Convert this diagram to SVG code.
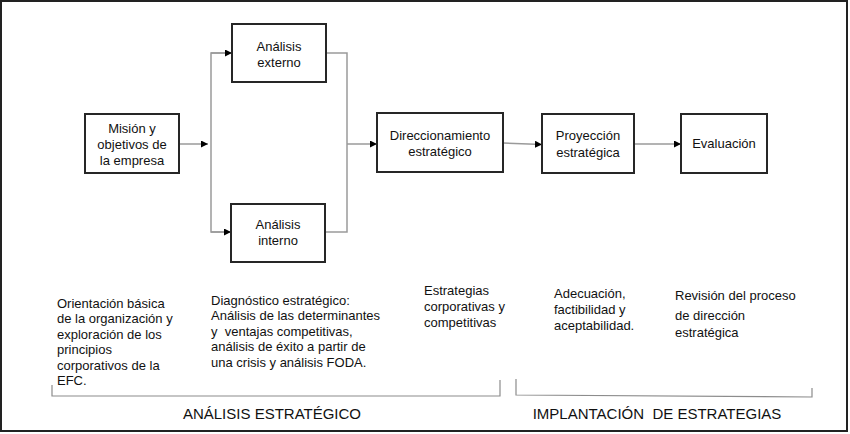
<svg xmlns="http://www.w3.org/2000/svg" width="850" height="434" viewBox="0 0 850 434">
<style>
.box{fill:#fff;stroke:#262626;stroke-width:2}
.t{font-family:"Liberation Sans",Arial,sans-serif;font-size:13px;fill:#111}
.c{text-anchor:middle}
.cap{font-family:"Liberation Sans",Arial,sans-serif;font-size:15px;fill:#111;text-anchor:middle}
.ln{fill:none;stroke:#9a9a9a;stroke-width:1.5}
.br{fill:none;stroke:#8c8c8c;stroke-width:1.2}
</style>
<defs>
<marker id="ah" viewBox="0 0 10 10" refX="10" refY="5" markerWidth="7" markerHeight="7" markerUnits="userSpaceOnUse" orient="auto">
<path d="M0,0 L10,5 L0,10 z" fill="#000"/>
</marker>
</defs>
<rect x="1" y="1" width="846" height="430" fill="#fff" stroke="#222" stroke-width="2"/>
<g id="connectors">
<line class="ln" x1="179" y1="144" x2="208" y2="144" marker-end="url(#ah)"/>
<polyline class="ln" points="232,53 211,53 211,232 231,232"/>
<line class="ln" x1="211" y1="53" x2="232" y2="53" marker-end="url(#ah)"/>
<line class="ln" x1="211" y1="232" x2="231" y2="232" marker-end="url(#ah)"/>
<polyline class="ln" points="326,53 347,53 347,232 325,232"/>
<line class="ln" x1="347" y1="144" x2="377" y2="144" marker-end="url(#ah)"/>
<line class="ln" x1="503" y1="143" x2="542" y2="144.5" marker-end="url(#ah)"/>
<line class="ln" x1="634" y1="144" x2="681" y2="144" marker-end="url(#ah)"/>
</g>
<g id="mision">
<rect class="box" x="85" y="114" width="94" height="59"/>
<text class="t c" x="132" y="133">Misión y</text>
<text class="t c" x="132" y="149">objetivos de</text>
<text class="t c" x="132" y="165">la empresa</text>
</g>
<g id="externo">
<rect class="box" x="232" y="24" width="94" height="58"/>
<text class="t c" x="279" y="51">Análisis</text>
<text class="t c" x="279" y="67">externo</text>
</g>
<g id="interno">
<rect class="box" x="231" y="204" width="94" height="58"/>
<text class="t c" x="278" y="229">Análisis</text>
<text class="t c" x="278" y="245">interno</text>
</g>
<g id="direccionamiento">
<rect class="box" x="377" y="113" width="126" height="59"/>
<text class="t c" x="440" y="140">Direccionamiento</text>
<text class="t c" x="440" y="156">estratégico</text>
</g>
<g id="proyeccion">
<rect class="box" x="542" y="114" width="92" height="59"/>
<text class="t c" x="588" y="140">Proyección</text>
<text class="t c" x="588" y="157">estratégica</text>
</g>
<g id="evaluacion">
<rect class="box" x="681" y="114" width="86" height="59"/>
<text class="t c" x="724" y="148">Evaluación</text>
</g>
<g id="desc1">
<text class="t" x="57" y="308">Orientación básica</text>
<text class="t" x="57" y="323">de la organización y</text>
<text class="t" x="57" y="339">exploración de los</text>
<text class="t" x="57" y="354">principios</text>
<text class="t" x="57" y="370">corporativos de la</text>
<text class="t" x="57" y="385">EFC.</text>
</g>
<g id="desc2">
<text class="t" x="211" y="305">Diagnóstico estratégico:</text>
<text class="t" x="211" y="320">Análisis de las determinantes</text>
<text class="t" x="211" y="336" xml:space="preserve">y  ventajas competitivas,</text>
<text class="t" x="211" y="351">análisis de éxito a partir de</text>
<text class="t" x="211" y="367">una crisis y análisis FODA.</text>
</g>
<g id="desc3">
<text class="t" x="424" y="295">Estrategias</text>
<text class="t" x="424" y="311">corporativas y</text>
<text class="t" x="424" y="327">competitivas</text>
</g>
<g id="desc4">
<text class="t" x="554" y="298">Adecuación,</text>
<text class="t" x="554" y="314">factibilidad y</text>
<text class="t" x="554" y="330">aceptabilidad.</text>
</g>
<g id="desc5">
<text class="t" x="675" y="300">Revisión del proceso</text>
<text class="t" x="675" y="320">de dirección</text>
<text class="t" x="675" y="337">estratégica</text>
</g>
<g id="brackets">
<polyline class="br" points="52,385 52,396 500,396 500,380"/>
<polyline class="br" points="516,379 516,395 812,397 812,388"/>
</g>
<g id="captions">
<text class="cap" x="272" y="419">ANÁLISIS ESTRATÉGICO</text>
<text class="cap" x="657" y="419" xml:space="preserve">IMPLANTACIÓN  DE ESTRATEGIAS</text>
</g>
</svg>
